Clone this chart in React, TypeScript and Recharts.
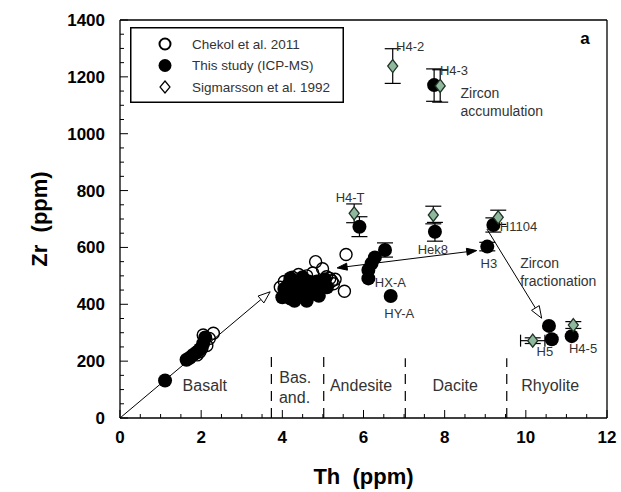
import React from 'react';
import { ScatterChart, Scatter, XAxis, YAxis, ErrorBar, ReferenceLine, Legend } from 'recharts';

const FONT = "'Liberation Sans', Arial, sans-serif";

// axis ticks
const X_LABELS = [0, 2, 4, 6, 8, 10, 12];
const Y_LABELS = [0, 200, 400, 600, 800, 1000, 1200, 1400];
const X_TICKS = Array.from({ length: 25 }, (_, i) => i * 0.5);
const Y_TICKS = Array.from({ length: 29 }, (_, i) => i * 50);

// Chekol et al. 2011 (open circles)
const CHEKOL = [
  { x: 1.9, y: 222 }, { x: 1.97, y: 233 }, { x: 2.02, y: 246 }, { x: 2.14, y: 255 },
  { x: 2.2, y: 280 }, { x: 2.05, y: 292 }, { x: 2.3, y: 298 },
  { x: 3.95, y: 460 }, { x: 4.05, y: 480 }, { x: 4.15, y: 440 }, { x: 4.25, y: 495 },
  { x: 4.3, y: 455 }, { x: 4.4, y: 505 }, { x: 4.5, y: 485 }, { x: 4.6, y: 500 },
  { x: 4.75, y: 510 }, { x: 4.9, y: 470 }, { x: 4.82, y: 550 }, { x: 4.99, y: 525 },
  { x: 5.09, y: 497 }, { x: 5.17, y: 491 }, { x: 5.22, y: 482 }, { x: 5.3, y: 488 },
  { x: 5.26, y: 472 }, { x: 5.53, y: 446 }, { x: 5.57, y: 575 },
];

// This study (ICP-MS) (filled circles)
const THIS_STUDY = [
  { x: 1.11, y: 132 }, { x: 1.64, y: 205 }, { x: 1.72, y: 212 }, { x: 1.8, y: 222 },
  { x: 1.88, y: 230 }, { x: 1.97, y: 242 }, { x: 2.05, y: 262 }, { x: 2.1, y: 283 },
  { x: 4.0, y: 425 }, { x: 4.05, y: 455 }, { x: 4.1, y: 440 }, { x: 4.15, y: 470 },
  { x: 4.2, y: 420 }, { x: 4.25, y: 450 }, { x: 4.3, y: 480 }, { x: 4.35, y: 430 },
  { x: 4.4, y: 460 }, { x: 4.45, y: 440 }, { x: 4.5, y: 470 }, { x: 4.55, y: 425 },
  { x: 4.6, y: 455 }, { x: 4.65, y: 480 }, { x: 4.7, y: 435 }, { x: 4.75, y: 465 },
  { x: 4.8, y: 445 }, { x: 4.85, y: 480 }, { x: 4.9, y: 455 }, { x: 5.0, y: 470 },
  { x: 5.05, y: 488 }, { x: 4.3, y: 412 }, { x: 4.6, y: 412 }, { x: 4.9, y: 430 },
  { x: 5.1, y: 460 }, { x: 4.2, y: 492 }, { x: 4.5, y: 495 },
  { x: 5.9, y: 673, err: 35 }, { x: 6.53, y: 591, err: 25 }, { x: 6.28, y: 565 },
  { x: 6.2, y: 544 }, { x: 6.12, y: 521 }, { x: 6.12, y: 491 }, { x: 6.67, y: 429 },
  { x: 7.76, y: 655, err: 33 }, { x: 9.05, y: 603, err: 15 }, { x: 9.2, y: 679, err: 25 },
  { x: 7.74, y: 1171, err: 57 },
  { x: 10.57, y: 324 }, { x: 10.64, y: 277 }, { x: 11.13, y: 288 },
];

// Sigmarsson et al. 1992 (diamonds)
const SIGMARSSON = [
  { x: 6.72, y: 1238, err: 61 }, { x: 7.89, y: 1168, err: 57 }, { x: 5.77, y: 720, err: 33 },
  { x: 7.72, y: 714, err: 31 }, { x: 9.32, y: 706, err: 25 },
  { x: 10.17, y: 272, err: 10, xerr: 0.3 }, { x: 11.17, y: 327, err: 12 },
];

// sample names, centred
const SAMPLE_LABELS = [
  { x: 7.15, y: 1308, text: 'H4-2' }, { x: 8.23, y: 1224, text: 'H4-3' },
  { x: 5.67, y: 777, text: 'H4-T' }, { x: 7.71, y: 594, text: 'Hek8' },
  { x: 9.09, y: 544, text: 'H3' }, { x: 6.88, y: 369, text: 'HY-A' },
  { x: 10.47, y: 233, text: 'H5' }, { x: 11.41, y: 246, text: 'H4-5' },
];
// sample names, left aligned
const SAMPLE_LABELS_LEFT = [
  { x: 9.36, y: 675, text: 'H1104' }, { x: 6.28, y: 476, text: 'HX-A' },
];
const NOTES = [
  { x: 8.39, y: 1142, text: 'Zircon' }, { x: 8.39, y: 1081, text: 'accumulation' },
  { x: 9.86, y: 545, text: 'Zircon' }, { x: 9.86, y: 482, text: 'fractionation' },
];
const FIELD_NAMES = [
  { x: 2.09, y: 113, text: 'Basalt' }, { x: 4.32, y: 144, text: 'Bas.' },
  { x: 4.3, y: 74, text: 'and.' }, { x: 5.94, y: 113, text: 'Andesite' },
  { x: 8.26, y: 113, text: 'Dacite' }, { x: 10.6, y: 113, text: 'Rhyolite' },
];
const PANEL_TAG = [{ x: 11.46, y: 1337, text: 'a' }];

const FIELD_BOUNDS = [
  { x: 3.73, top: 225 }, { x: 5.02, top: 215 }, { x: 7.03, top: 210 }, { x: 9.53, top: 210 },
];

const TREND_ARROWS = [
  { from: { x: 0, y: 0 }, to: { x: 3.7, y: 444 }, open: true, both: false },
  { from: { x: 5.35, y: 528 }, to: { x: 8.79, y: 589 }, open: false, both: true },
  { from: { x: 9.04, y: 665 }, to: { x: 10.39, y: 351 }, open: true, both: false },
];

const head = (tx: number, ty: number, fx: number, fy: number, open: boolean) => {
  const a = Math.atan2(ty - fy, tx - fx);
  const L = open ? 12 : 10;
  const W = open ? 4.5 : 3.5;
  const bx = tx - L * Math.cos(a);
  const by = ty - L * Math.sin(a);
  const pts = `${tx},${ty} ${bx + W * Math.sin(a)},${by - W * Math.cos(a)} ${bx - W * Math.sin(a)},${by + W * Math.cos(a)}`;
  return { pts, bx, by };
};

const arrowShape = (open: boolean, both: boolean) => (p: any) => {
  const { x1, y1, x2, y2 } = p;
  const h2 = head(x2, y2, x1, y1, open);
  const h1 = both ? head(x1, y1, x2, y2, open) : null;
  return (
    <g>
      <line x1={h1 ? h1.bx : x1} y1={h1 ? h1.by : y1} x2={h2.bx} y2={h2.by} stroke="#000" strokeWidth={1} />
      <polygon points={h2.pts} fill={open ? '#fff' : '#000'} stroke="#000" strokeWidth={1} />
      {h1 && <polygon points={h1.pts} fill={open ? '#fff' : '#000'} stroke="#000" strokeWidth={1} />}
    </g>
  );
};

const BottomTick = ({ x, y, payload }: any) => {
  const major = X_LABELS.includes(payload.value);
  return (
    <g>
      <line x1={x} x2={x} y1={y} y2={y - (major ? 8 : 4)} stroke="#000" />
      {major && (
        <text x={x} y={y + 25} textAnchor="middle" fontSize={17} fontWeight="bold" fill="#000" fontFamily={FONT}>
          {payload.value}
        </text>
      )}
    </g>
  );
};
const TopTick = ({ x, y, payload }: any) => {
  const major = X_LABELS.includes(payload.value);
  return <line x1={x} x2={x} y1={y} y2={y + (major ? 8 : 4)} stroke="#000" />;
};
const LeftTick = ({ x, y, payload }: any) => {
  const major = Y_LABELS.includes(payload.value);
  return (
    <g>
      <line x1={x} x2={x + (major ? 8 : 4)} y1={y} y2={y} stroke="#000" />
      {major && (
        <text x={x - 15} y={y} dy="0.35em" textAnchor="end" fontSize={17} fontWeight="bold" fill="#000" fontFamily={FONT}>
          {payload.value}
        </text>
      )}
    </g>
  );
};
const RightTick = ({ x, y, payload }: any) => {
  const major = Y_LABELS.includes(payload.value);
  return <line x1={x} x2={x - (major ? 8 : 4)} y1={y} y2={y} stroke="#000" />;
};

const OpenCircle = (p: any) => <circle cx={p.cx} cy={p.cy} r={6} fill="none" stroke="#000" strokeWidth={1.4} />;
const FilledCircle = (p: any) => <circle cx={p.cx} cy={p.cy} r={7} fill="#000" />;
const Diamond = (p: any) => (
  <polygon
    points={`${p.cx},${p.cy - 6.5} ${p.cx + 5},${p.cy} ${p.cx},${p.cy + 6.5} ${p.cx - 5},${p.cy}`}
    fill="#8fb89c"
    stroke="#1f3326"
    strokeWidth={1.3}
  />
);

const textShape = (anchor: string, size: number, bold = false) => (p: any) => (
  <text
    x={p.cx}
    y={p.cy}
    dy="0.35em"
    textAnchor={anchor}
    fontSize={size}
    fontWeight={bold ? 'bold' : 'normal'}
    fill={bold ? '#000' : '#333'}
    fontFamily={FONT}
  >
    {p.payload.text}
  </text>
);

const LEGEND_ITEMS = [
  { name: 'Chekol et al. 2011', kind: 'open' },
  { name: 'This study (ICP-MS)', kind: 'filled' },
  { name: 'Sigmarsson et al. 1992', kind: 'diamond' },
];

const LegendBox = () => (
  <svg width={214} height={76} style={{ display: 'block' }}>
    <rect x={0.75} y={0.75} width={212.5} height={74.5} fill="#fff" stroke="#000" strokeWidth={1.5} />
    {LEGEND_ITEMS.map((it, i) => {
      const cy = 17 + i * 21.5;
      return (
        <g key={it.name}>
          {it.kind === 'open' && <circle cx={35} cy={cy} r={5.5} fill="#fff" stroke="#000" strokeWidth={2} />}
          {it.kind === 'filled' && <circle cx={35} cy={cy} r={6.5} fill="#000" />}
          {it.kind === 'diamond' && (
            <polygon points={`35,${cy - 6} 40,${cy} 35,${cy + 6} 30,${cy}`} fill="#fff" stroke="#000" strokeWidth={1.2} />
          )}
          <text x={62} y={cy} dy="0.35em" fontSize={13.5} fill="#333" fontFamily={FONT}>
            {it.name}
          </text>
        </g>
      );
    })}
  </svg>
);

export default function App() {
  return (
    <div style={{ position: 'absolute', left: 0, top: 0, width: 621, height: 492, background: '#fff' }}>
      <ScatterChart width={621} height={492} margin={{ top: 19, right: 13, bottom: 0, left: 0 }}>
        <XAxis
          dataKey="x"
          type="number"
          domain={[0, 12]}
          ticks={X_TICKS}
          interval={0}
          tickSize={0}
          tickMargin={0}
          tickLine={false}
          tick={<BottomTick />}
          height={74}
          axisLine={{ stroke: '#000', strokeWidth: 1.3 }}
          label={{
            content: (p: any) => {
              const vb = p.viewBox;
              return (
                <text x={vb.x + vb.width / 2} y={vb.y + 66} textAnchor="middle" fontSize={22} fontWeight="bold" fontFamily={FONT} style={{ whiteSpace: 'pre' }}>
                  {'Th  (ppm)'}
                </text>
              );
            },
          }}
        />
        <XAxis
          xAxisId="top"
          orientation="top"
          dataKey="x"
          type="number"
          domain={[0, 12]}
          ticks={X_TICKS}
          interval={0}
          tickSize={0}
          tickMargin={0}
          tickLine={false}
          tick={<TopTick />}
          height={1}
          axisLine={{ stroke: '#000', strokeWidth: 1.3 }}
        />
        <YAxis
          dataKey="y"
          type="number"
          domain={[0, 1400]}
          ticks={Y_TICKS}
          interval={0}
          tickSize={0}
          tickMargin={0}
          tickLine={false}
          tick={<LeftTick />}
          width={120}
          axisLine={{ stroke: '#000', strokeWidth: 1.3 }}
          label={{
            content: (p: any) => {
              const vb = p.viewBox;
              const cx = vb.x + 39;
              const cy = vb.y + vb.height / 2;
              return (
                <text x={cx} y={cy} dy="0.35em" transform={`rotate(-90, ${cx}, ${cy})`} textAnchor="middle" fontSize={22} fontWeight="bold" fontFamily={FONT} style={{ whiteSpace: 'pre' }}>
                  {'Zr  (ppm)'}
                </text>
              );
            },
          }}
        />
        <YAxis
          yAxisId="right"
          orientation="right"
          dataKey="y"
          type="number"
          domain={[0, 1400]}
          ticks={Y_TICKS}
          interval={0}
          tickSize={0}
          tickMargin={0}
          tickLine={false}
          tick={<RightTick />}
          width={1}
          axisLine={{ stroke: '#000', strokeWidth: 1.3 }}
        />

        {FIELD_BOUNDS.map((b) => (
          <ReferenceLine
            key={`b${b.x}`}
            segment={[{ x: b.x, y: 0 }, { x: b.x, y: b.top }]}
            stroke="#000"
            strokeWidth={1.2}
            strokeDasharray="10 7"
          />
        ))}
        {TREND_ARROWS.map((a, i) => (
          <ReferenceLine key={`a${i}`} segment={[a.from, a.to]} shape={arrowShape(a.open, a.both)} />
        ))}

        <Scatter name="Chekol et al. 2011" data={CHEKOL} shape={OpenCircle} isAnimationActive={false} />
        <Scatter name="This study (ICP-MS)" data={THIS_STUDY} shape={FilledCircle} isAnimationActive={false}>
          <ErrorBar dataKey="err" direction="y" width={8} stroke="#000" strokeWidth={1.2} />
        </Scatter>
        <Scatter name="Sigmarsson et al. 1992" data={SIGMARSSON} shape={Diamond} isAnimationActive={false}>
          <ErrorBar dataKey="err" direction="y" width={8} stroke="#000" strokeWidth={1.2} />
          <ErrorBar dataKey="xerr" direction="x" width={6} stroke="#000" strokeWidth={1.2} />
        </Scatter>

        <Scatter data={SAMPLE_LABELS} shape={textShape('middle', 13)} isAnimationActive={false} legendType="none" />
        <Scatter data={SAMPLE_LABELS_LEFT} shape={textShape('start', 13)} isAnimationActive={false} legendType="none" />
        <Scatter data={NOTES} shape={textShape('start', 14)} isAnimationActive={false} legendType="none" />
        <Scatter data={FIELD_NAMES} shape={textShape('middle', 16)} isAnimationActive={false} legendType="none" />
        <Scatter data={PANEL_TAG} shape={textShape('middle', 17, true)} isAnimationActive={false} legendType="none" />

        <Legend
          layout="horizontal"
          verticalAlign="middle"
          align="center"
          wrapperStyle={{ left: 130, top: 27, width: 214, height: 76 }}
          content={() => <LegendBox />}
        />
      </ScatterChart>
    </div>
  );
}
